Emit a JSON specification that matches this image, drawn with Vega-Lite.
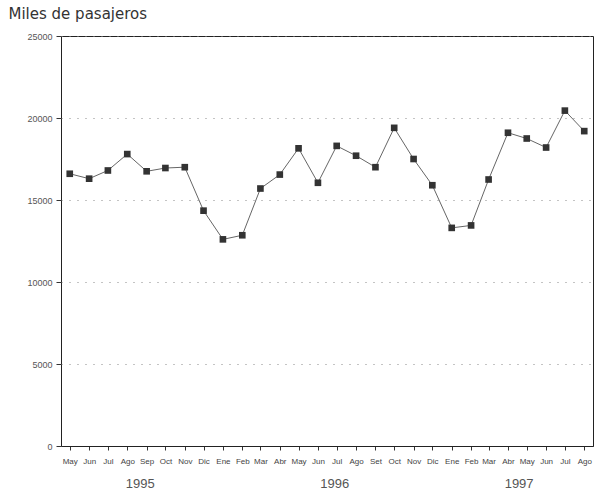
{
  "$schema": "https://vega.github.io/schema/vega-lite/v6.json",
  "width": 532,
  "height": 410,
  "autosize": {"type": "none"},
  "padding": {"left": 61, "top": 36, "right": 9, "bottom": 48},
  "background": "white",
  "config": {
    "view": {"stroke": "#222", "strokeWidth": 1},
    "font": "Liberation Sans"
  },
  "data": {
    "values": [
      {"date": "1995/05/01", "pasajeros": 16600},
      {"date": "1995/06/01", "pasajeros": 16300},
      {"date": "1995/07/01", "pasajeros": 16800},
      {"date": "1995/08/01", "pasajeros": 17800},
      {"date": "1995/09/01", "pasajeros": 16750},
      {"date": "1995/10/01", "pasajeros": 16950},
      {"date": "1995/11/01", "pasajeros": 17000},
      {"date": "1995/12/01", "pasajeros": 14350},
      {"date": "1996/01/01", "pasajeros": 12600},
      {"date": "1996/02/01", "pasajeros": 12850},
      {"date": "1996/03/01", "pasajeros": 15700},
      {"date": "1996/04/01", "pasajeros": 16550},
      {"date": "1996/05/01", "pasajeros": 18150},
      {"date": "1996/06/01", "pasajeros": 16050},
      {"date": "1996/07/01", "pasajeros": 18300},
      {"date": "1996/08/01", "pasajeros": 17700},
      {"date": "1996/09/01", "pasajeros": 17000},
      {"date": "1996/10/01", "pasajeros": 19400},
      {"date": "1996/11/01", "pasajeros": 17500},
      {"date": "1996/12/01", "pasajeros": 15900},
      {"date": "1997/01/01", "pasajeros": 13300},
      {"date": "1997/02/01", "pasajeros": 13450},
      {"date": "1997/03/01", "pasajeros": 16250},
      {"date": "1997/04/01", "pasajeros": 19100},
      {"date": "1997/05/01", "pasajeros": 18750},
      {"date": "1997/06/01", "pasajeros": 18200},
      {"date": "1997/07/01", "pasajeros": 20450},
      {"date": "1997/08/01", "pasajeros": 19200}
    ]
  },
  "encoding": {
    "y": {
      "field": "pasajeros",
      "type": "quantitative",
      "scale": {"domain": [0, 25000], "nice": false},
      "axis": {
        "title": "Miles de pasajeros",
        "titleAngle": 0,
        "titleAlign": "left",
        "titleBaseline": "alphabetic",
        "titleX": -53,
        "titleY": -18,
        "titleFont": "DejaVu Sans",
        "titleFontSize": 15,
        "titleFontWeight": "normal",
        "titleColor": "#333",
        "values": [0, 5000, 10000, 15000, 20000, 25000],
        "format": "d",
        "labelFontSize": 9,
        "labelColor": "#555",
        "labelPadding": 4,
        "tickSize": 5,
        "tickColor": "#333",
        "domain": false,
        "grid": true,
        "gridColor": "#888",
        "gridDash": [1, 7],
        "gridWidth": 1
      }
    }
  },
  "layer": [
    {
      "mark": {"type": "line", "color": "#666", "strokeWidth": 1},
      "encoding": {
        "x": {
          "field": "date",
          "type": "temporal",
          "scale": {
            "domain": [
              {"year": 1995, "month": 4, "date": 17},
              {"year": 1997, "month": 8, "date": 15}
            ]
          },
          "axis": {
            "title": null,
            "orient": "bottom",
            "values": [
              {"year": 1995, "month": 8, "date": 21},
              {"year": 1996, "month": 6, "date": 27},
              {"year": 1997, "month": 4, "date": 18}
            ],
            "format": "%Y",
            "domain": false,
            "ticks": false,
            "grid": false,
            "labelPadding": 31,
            "labelFontSize": 13,
            "labelColor": "#555",
            "labelBaseline": "top"
          }
        }
      }
    },
    {
      "mark": {"type": "point", "shape": "square", "filled": true, "size": 44, "color": "#333", "opacity": 1},
      "encoding": {
        "x": {
          "field": "date",
          "type": "temporal",
          "axis": {
            "title": null,
            "orient": "bottom",
            "tickCount": {"interval": "month", "step": 1},
            "labelExpr": "year(datum.value) == 1996 && month(datum.value) == 8 ? 'Set' : ['Ene','Feb','Mar','Abr','May','Jun','Jul','Ago','Sep','Oct','Nov','Dic'][month(datum.value)]",
            "labelOverlap": false,
            "labelFontSize": 8,
            "labelColor": "#444",
            "labelPadding": 7,
            "labelFlush": false,
            "tickSize": 4,
            "tickColor": "#333",
            "domainColor": "#222",
            "grid": false
          }
        }
      }
    }
  ],
  "resolve": {"axis": {"x": "independent"}}
}
